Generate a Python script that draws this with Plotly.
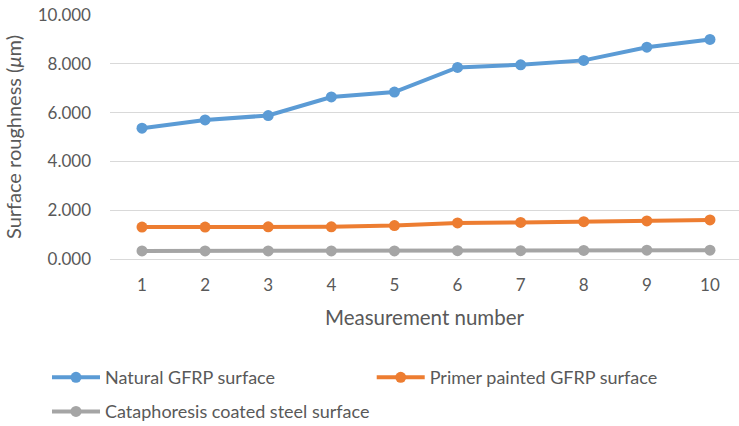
import plotly.graph_objects as go

# Measurement index and surface roughness readings (µm)
measurements = [1, 2, 3, 4, 5, 6, 7, 8, 9, 10]
natural_gfrp = [5.36, 5.70, 5.88, 6.64, 6.84, 7.85, 7.96, 8.14, 8.68, 9.00]
primer_gfrp = [1.31, 1.31, 1.32, 1.32, 1.37, 1.48, 1.50, 1.53, 1.56, 1.60]
cataphoresis_steel = [0.33, 0.33, 0.33, 0.33, 0.33, 0.34, 0.34, 0.35, 0.36, 0.36]
y_ticks = [0, 2, 4, 6, 8, 10]

series = [
    ("Natural GFRP surface", natural_gfrp, "#5B9BD5", "legend"),
    ("Primer painted GFRP surface", primer_gfrp, "#ED7D31", "legend2"),
    ("Cataphoresis coated steel surface", cataphoresis_steel, "#A5A5A5", "legend3"),
]

FONT = "Lato, 'Open Sans', sans-serif"
TEXT = "#595959"

fig = go.Figure()
for name, values, color, leg in series:
    fig.add_trace(go.Scatter(
        x=measurements, y=values, name=name, mode="lines+markers",
        line=dict(color=color, width=4),
        marker=dict(color=color, size=11),
        legend=leg, showlegend=True,
    ))

legend_style = dict(orientation="h", xanchor="left", yanchor="top",
                    xref="container", yref="container",
                    font=dict(size=18, color=TEXT), itemwidth=48,
                    bgcolor="rgba(0,0,0,0)")

fig.update_layout(
    width=739, height=426,
    showlegend=True,
    margin=dict(l=110, r=0, t=15, b=167),
    paper_bgcolor="white", plot_bgcolor="white",
    font=dict(family=FONT, color=TEXT, size=17),
    xaxis=dict(
        tickmode="array", tickvals=measurements,
        ticktext=[str(m) for m in measurements],
        range=[0.493, 10.46], showgrid=False, zeroline=False,
        showline=False, ticks="", tickfont=dict(size=17),
        ticklabelstandoff=14,
        title=dict(text="Measurement number", font=dict(size=20.5), standoff=16),
    ),
    yaxis=dict(
        tickvals=y_ticks, tickformat=".3f", range=[0, 10],
        showgrid=True, gridcolor="#D9D9D9", gridwidth=1,
        zeroline=True, zerolinecolor="#D9D9D9", zerolinewidth=1,
        showline=False, ticks="", tickfont=dict(size=17),
        ticklabelstandoff=18,
        title=dict(text="Surface roughness (<i>μ</i>m)", font=dict(size=20), standoff=10),
    ),
    legend=dict(x=0.0636, y=0.157, **legend_style),
    legend2=dict(x=0.503, y=0.157, **legend_style),
    legend3=dict(x=0.0636, y=0.077, **legend_style),
)

fig.write_html("out.html")
